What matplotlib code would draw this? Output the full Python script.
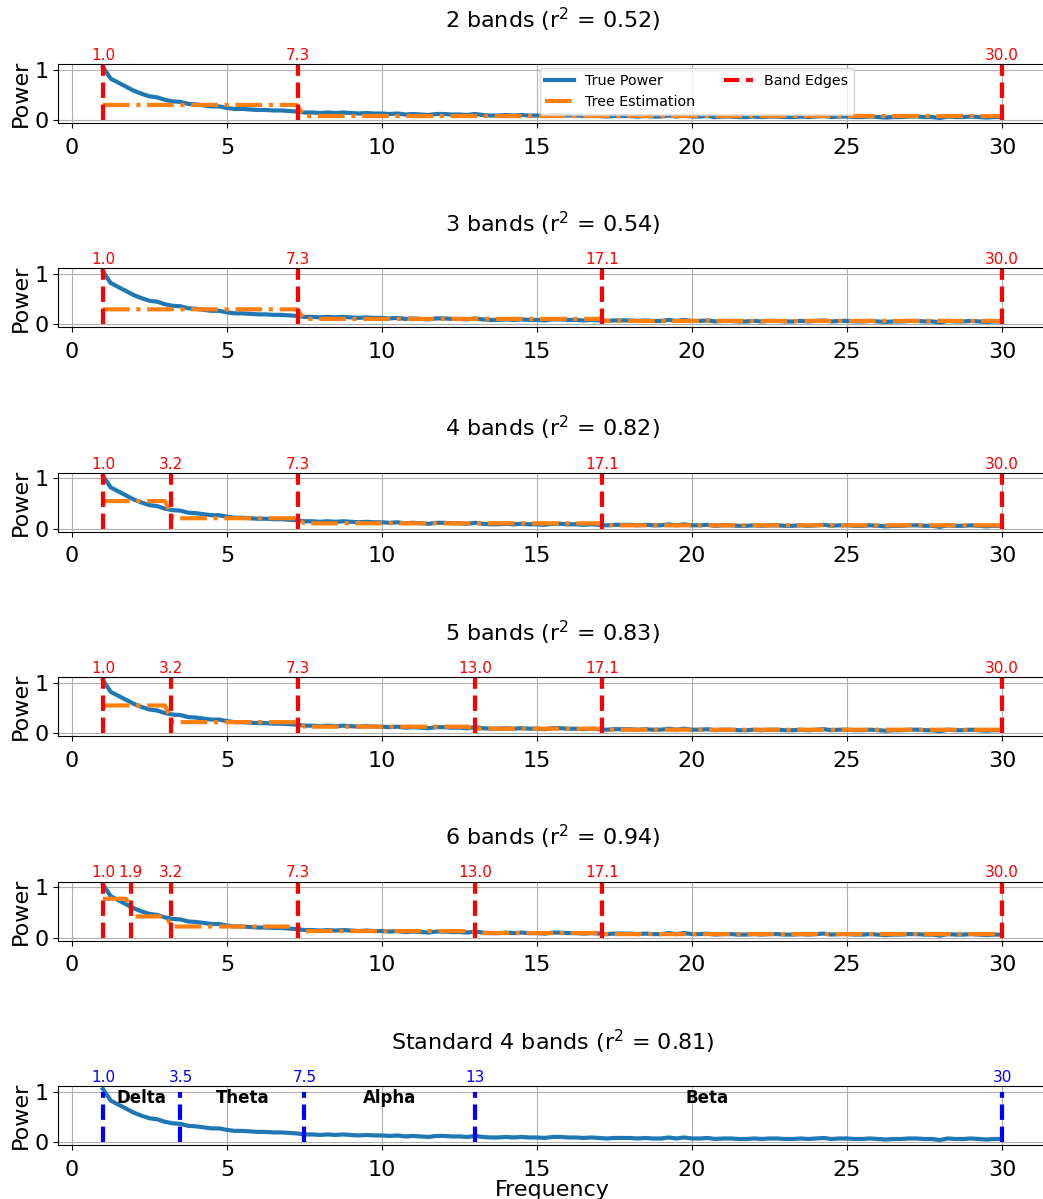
import numpy as np
import matplotlib
matplotlib.use("Agg")
import matplotlib.pyplot as plt
import matplotlib.transforms as mtransforms

plt.rcParams["font.size"] = 16

# frequency grid (Hz) and measured power spectrum
freqs = np.arange(1.0, 30.01, 0.25)
true_power = [
    1.05, 0.82, 0.74, 0.66, 0.58, 0.52, 0.47, 0.45, 0.40, 0.37,
    0.36, 0.32, 0.31, 0.29, 0.27, 0.27, 0.24, 0.22, 0.22, 0.21,
    0.20, 0.20, 0.19, 0.19, 0.18, 0.17, 0.15, 0.15, 0.14, 0.15,
    0.14, 0.15, 0.14, 0.13, 0.14, 0.13, 0.13, 0.12, 0.13, 0.11,
    0.12, 0.11, 0.10, 0.12, 0.12, 0.11, 0.11, 0.10, 0.12, 0.10,
    0.09, 0.09, 0.10, 0.09, 0.10, 0.09, 0.09, 0.08, 0.10, 0.10,
    0.09, 0.09, 0.08, 0.09, 0.08, 0.07, 0.08, 0.08, 0.08, 0.07,
    0.08, 0.07, 0.07, 0.09, 0.07, 0.09, 0.07, 0.07, 0.08, 0.06,
    0.07, 0.07, 0.06, 0.06, 0.07, 0.06, 0.07, 0.07, 0.06, 0.06,
    0.07, 0.06, 0.07, 0.08, 0.06, 0.07, 0.07, 0.06, 0.06, 0.07,
    0.06, 0.05, 0.06, 0.06, 0.07, 0.07, 0.06, 0.06, 0.04, 0.07,
    0.06, 0.06, 0.07, 0.06, 0.05, 0.06, 0.06,
]

# tree-based band splits: edges, per-band mean, r^2
tree_edges = [
    [1.0, 7.3, 30.0],
    [1.0, 7.3, 17.1, 30.0],
    [1.0, 3.2, 7.3, 17.1, 30.0],
    [1.0, 3.2, 7.3, 13.0, 17.1, 30.0],
    [1.0, 1.9, 3.2, 7.3, 13.0, 17.1, 30.0],
]
tree_means = [
    [0.30, 0.08],
    [0.30, 0.11, 0.07],
    [0.55, 0.21, 0.11, 0.07],
    [0.55, 0.22, 0.13, 0.09, 0.07],
    [0.77, 0.42, 0.22, 0.13, 0.09, 0.07],
]
tree_r2 = [0.52, 0.54, 0.82, 0.83, 0.94]

# standard EEG bands
std_edges = [1.0, 3.5, 7.5, 13, 30]
std_edge_labels = ["1.0", "3.5", "7.5", "13", "30"]
std_names = ["Delta", "Theta", "Alpha", "Beta"]
std_name_pos = [2.25, 5.5, 10.25, 20.5]
std_r2 = 0.81

fig = plt.figure(figsize=(10.43, 11.99), dpi=100)
axes = fig.subplots(6, 1)
fig.subplots_adjust(left=0.0556, right=1.0038, top=0.9466, bottom=0.045, hspace=2.46)

for i, ax in enumerate(axes[:5]):
    edges = tree_edges[i]
    means = tree_means[i]
    idx = np.clip(np.searchsorted(edges, freqs, side="right") - 1, 0, len(means) - 1)
    est = np.array(means)[idx]

    ax.plot(freqs, true_power, color="#1f77b4", lw=3, label="True Power")
    ax.plot(freqs, est, color="#ff7f0e", lw=3, ls="-.", label="Tree Estimation")
    trans = mtransforms.blended_transform_factory(ax.transData, ax.transAxes)
    for j, e in enumerate(edges):
        ax.vlines(e, 0, 1.1, colors="red", linestyles="--", lw=3,
                  label="Band Edges" if j == 0 else None)
        ax.text(e, 1.02, f"{e:.1f}", color="red", fontsize=11,
                ha="center", va="bottom", transform=trans)
    ax.set_title(f"{len(edges) - 1} bands (r$^2$ = {tree_r2[i]:.2f})",
                 fontsize=16, pad=26)
    if i == 0:
        ax.legend(loc="upper left", bbox_to_anchor=(0.487, 0.93), borderaxespad=0,
                  ncol=2, fontsize=10.3)

# standard bands panel
ax = axes[5]
ax.plot(freqs, true_power, color="#1f77b4", lw=3)
trans = mtransforms.blended_transform_factory(ax.transData, ax.transAxes)
for e, lab in zip(std_edges, std_edge_labels):
    ax.vlines(e, 0, 1.0, colors="blue", linestyles="--", lw=3)
    ax.text(e, 1.02, lab, color="blue", fontsize=11, ha="center", va="bottom",
            transform=trans)
for name, x in zip(std_names, std_name_pos):
    ax.text(x, 0.87, name, fontsize=12, fontweight="bold", ha="center", va="center")
ax.set_title(f"Standard 4 bands (r$^2$ = {std_r2:.2f})", fontsize=16, pad=26)
ax.set_xlabel("Frequency", labelpad=0)

for ax in axes:
    ax.set_xlim(-0.45, 31.45)
    ax.set_ylim(-0.06, 1.11)
    ax.set_xticks([0, 5, 10, 15, 20, 25, 30])
    ax.set_yticks([0, 1])
    ax.tick_params(axis="x", pad=7)
    ax.set_ylabel("Power", labelpad=2)
    ax.grid(True)

fig.savefig("out.png", dpi=100)
